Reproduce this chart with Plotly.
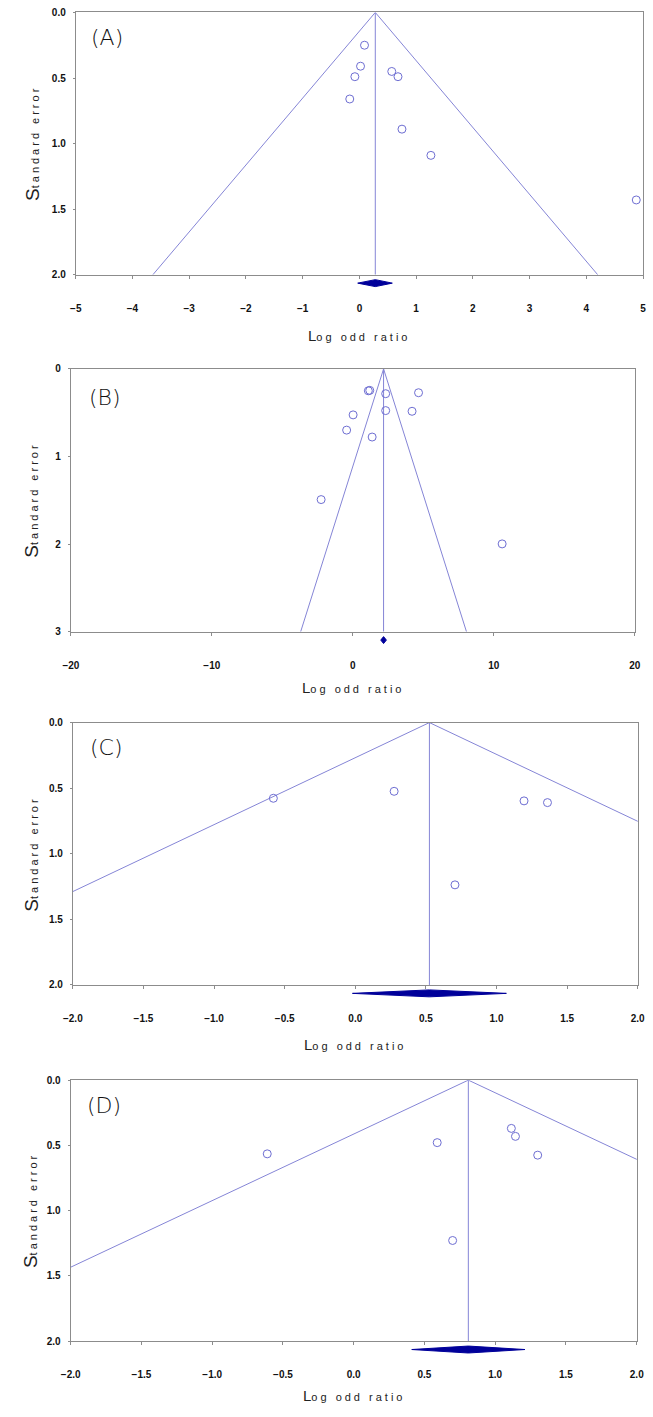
import plotly.graph_objects as go

# ---------------- data ----------------
A_logor = [0.09, 0.02, -0.08, -0.17, 0.57, 0.68, 0.75, 1.26, 4.88]
A_se = [0.25, 0.41, 0.49, 0.66, 0.45, 0.49, 0.89, 1.09, 1.43]
A_pooled = 0.28
A_ci = [-0.03, 0.58]

B_logor = [1.10, 1.20, 2.33, 4.66, 2.33, 4.20, 0.02, -0.44, 1.37, -2.25, 10.59]
B_se = [0.250, 0.245, 0.283, 0.272, 0.476, 0.484, 0.525, 0.699, 0.778, 1.492, 1.998]
B_pooled = 2.18
B_ci = [1.98, 2.38]

C_logor = [-0.58, 0.275, 1.195, 1.361, 0.706]
C_se = [0.577, 0.524, 0.597, 0.610, 1.237]
C_pooled = 0.525
C_ci = [-0.02, 1.07]

D_logor = [-0.611, 0.59, 1.114, 1.143, 1.30, 0.699]
D_se = [0.565, 0.479, 0.370, 0.431, 0.575, 1.229]
D_pooled = 0.81
D_ci = [0.41, 1.21]

panel_labels = ["(A)", "(B)", "(C)", "(D)"]
x_ranges = [[-5, 5], [-20, 20], [-2, 2], [-2, 2]]
x_dticks = [1, 10, 0.5, 0.5]
x_formats = ["d", "d", ".1f", ".1f"]
y_max = [2, 3, 2, 2]
y_dticks = [0.5, 1, 0.5, 0.5]
y_formats = [".1f", "d", ".1f", ".1f"]
x_title = "Log odd ratio"
y_title = "Standard error"

data = [
    (A_logor, A_se, A_pooled, A_ci),
    (B_logor, B_se, B_pooled, B_ci),
    (C_logor, C_se, C_pooled, C_ci),
    (D_logor, D_se, D_pooled, D_ci),
]

# ---------------- layout geometry (pixels) ----------------
W, H = 653, 1417
boxes = [
    (67.5, 650.0, 6.5, 271.0),
    (62.5, 641.5, 366.0, 631.0),
    (64.5, 644.5, 722.7, 987.3),
    (62.3, 643.5, 1083.3, 1346.5),
]
xtitle_y = [332, 687, 1047, 1401]
label_pos = [(100, 31.5), (97.5, 395), (99, 747.5), (97, 1108.7)]
ytitle_x = [23, 22, 22.5, 21]
STRIP = 17

LINE = "#8585d6"
MARK = "#6e6ed2"
DIAM = "#00009a"
AXC = "#8c8c8c"

def px(xp):
    return xp / W

def py(yp):
    return 1 - yp / H

fig = go.Figure()
layout = dict(
    width=W, height=H, margin=dict(l=0, r=0, t=0, b=0),
    paper_bgcolor="white", plot_bgcolor="white", showlegend=False,
    annotations=[],
)

tickfont = dict(family="Liberation Sans, Arial, sans-serif", size=10, color="#111", weight="bold")
titlefont = dict(family="Liberation Sans, Arial, sans-serif", size=11, color="#222")

for i, ((lx, se, pooled, ci), (l, r, t, b)) in enumerate(zip(data, boxes)):
    n = i + 1
    s = i + 5
    xk = "x" if n == 1 else f"x{n}"
    yk = "y" if n == 1 else f"y{n}"
    ymax = y_max[i]

    fig.add_trace(go.Scatter(
        x=[pooled - 1.96 * ymax, pooled, pooled + 1.96 * ymax], y=[ymax, 0, ymax],
        mode="lines", line=dict(color=LINE, width=1), xaxis=xk, yaxis=yk, hoverinfo="skip"))
    fig.add_trace(go.Scatter(
        x=[pooled, pooled], y=[0, ymax], mode="lines",
        line=dict(color=LINE, width=1), xaxis=xk, yaxis=yk, hoverinfo="skip"))
    fig.add_trace(go.Scatter(
        x=lx, y=se, mode="markers",
        marker=dict(symbol="circle-open", size=8, color=MARK, line=dict(color=MARK, width=1)),
        xaxis=xk, yaxis=yk, cliponaxis=False))
    hh = 3.5
    fig.add_trace(go.Scatter(
        x=[ci[0], pooled, ci[1], pooled, ci[0]], y=[0, hh, 0, -hh, 0],
        mode="lines", fill="toself", fillcolor=DIAM, line=dict(color=DIAM, width=1),
        xaxis=f"x{s}", yaxis=f"y{s}", hoverinfo="skip"))

    xd = [px(l), px(r)]
    layout["xaxis" if n == 1 else f"xaxis{n}"] = dict(
        domain=xd, anchor=yk, range=x_ranges[i], dtick=x_dticks[i], tick0=0,
        tickformat=x_formats[i], showgrid=False, zeroline=False,
        showline=True, linecolor=AXC, linewidth=1, mirror=True,
        ticks="outside", ticklen=3, tickcolor=AXC, tickwidth=1,
        tickfont=tickfont, ticklabelstandoff=21,
    )
    layout["yaxis" if n == 1 else f"yaxis{n}"] = dict(
        domain=[py(b), py(t)], anchor=xk, range=[ymax, 0], dtick=y_dticks[i], tick0=0,
        tickformat=y_formats[i], showgrid=False, zeroline=False,
        showline=True, linecolor=AXC, linewidth=1, mirror=True,
        ticks="outside", ticklen=2, tickcolor=AXC, tickwidth=1,
        tickfont=tickfont, ticklabelstandoff=5,
    )
    layout[f"xaxis{s}"] = dict(domain=xd, anchor=f"y{s}", range=x_ranges[i], visible=False)
    layout[f"yaxis{s}"] = dict(domain=[py(b + STRIP), py(b)], anchor=f"x{s}",
                               range=[STRIP / 2, -STRIP / 2], visible=False)

    layout["annotations"].append(dict(
        x=px((l + r) / 2), y=py(xtitle_y[i]), xref="paper", yref="paper",
        xanchor="center", yanchor="middle", showarrow=False, font=titlefont,
        text="<span style='font-size:15px'>" + x_title[0] + "</span>"
             "<span style='letter-spacing:3px'>" + x_title[1:] + "</span>"))
    layout["annotations"].append(dict(
        x=px(ytitle_x[i]), y=py((t + b) / 2), xref="paper", yref="paper",
        xanchor="center", yanchor="middle", showarrow=False, textangle=-90, font=titlefont,
        text="<span style='font-size:19px'>" + y_title[0] + "</span>"
             "<span style='letter-spacing:3px'>" + y_title[1:] + "</span>"))
    layout["annotations"].append(dict(
        x=px(label_pos[i][0]), y=py(label_pos[i][1]), xref="paper", yref="paper",
        xanchor="center", yanchor="middle", showarrow=False, text=panel_labels[i],
        font=dict(family="DejaVu Sans, sans-serif", size=22, color="#111", weight=200)))

fig.update_layout(**layout)
fig.write_html(
    "out.html",
    config={"displayModeBar": False},
    post_script="document.body.style.margin='0';document.body.style.overflow='hidden';",
)
